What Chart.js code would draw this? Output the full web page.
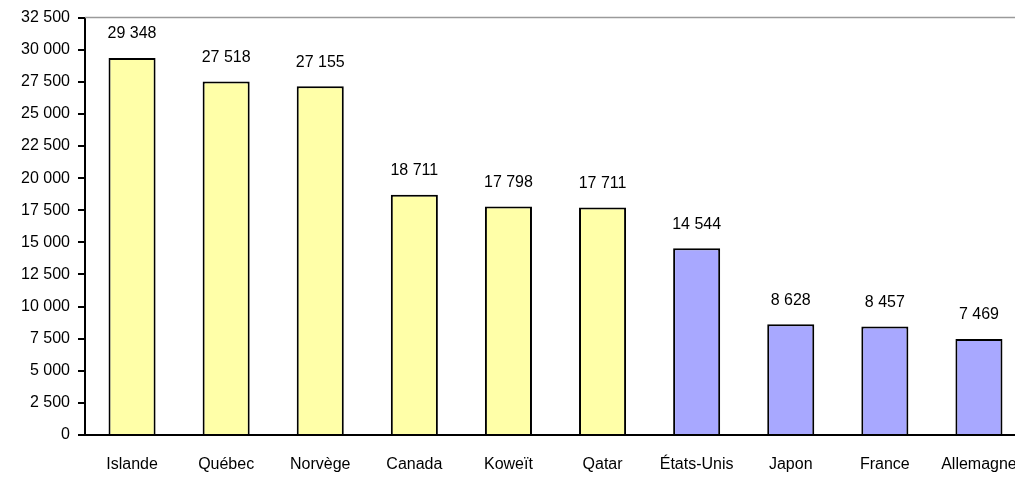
<!DOCTYPE html>
<html>
<head>
<meta charset="utf-8">
<script src="https://cdn.jsdelivr.net/npm/chart.js@4.4.1/dist/chart.umd.min.js"></script>
<style>
  html, body { margin: 0; padding: 0; background: #fff; overflow: hidden; }
  canvas { display: block; }
</style>
</head>
<body>
<canvas id="barChart" width="1030" height="477"></canvas>
<script>
// ================= DATA =================

const pays = ["Islande", "Québec", "Norvège", "Canada", "Koweït", "Qatar", "États-Unis", "Japon", "France", "Allemagne"];
const valeurs = [29348, 27518, 27155, 18711, 17798, 17711, 14544, 8628, 8457, 7469];
const groupe = [0, 0, 0, 0, 0, 0, 1, 1, 1, 1];
const yTicks = [0, 2500, 5000, 7500, 10000, 12500, 15000, 17500, 20000, 22500, 25000, 27500, 30000, 32500];

const couleurs = ["#ffffa8", "#a8a8ff"];
const FONT = "'Liberation Sans', Arial, sans-serif";

function fmt(v) {
    return String(v).replace(/\B(?=(\d{3})+(?!\d))/g, " ");
}

// ================= PLUGINS =================

const topBorder = {
    id: "topBorder",
    afterDraw(chart) {
        const { ctx, chartArea } = chart;
        ctx.save();
        ctx.strokeStyle = "#9a9a9a";
        ctx.lineWidth = 1.5;
        ctx.beginPath();
        ctx.moveTo(chartArea.left, chartArea.top);
        ctx.lineTo(chartArea.right, chartArea.top);
        ctx.stroke();
        ctx.restore();
    },
};

const valueLabels = {
    id: "valueLabels",
    afterDatasetsDraw(chart) {
        const { ctx } = chart;
        const meta = chart.getDatasetMeta(0);
        ctx.save();
        ctx.font = "16px " + FONT;
        ctx.fillStyle = "#000";
        ctx.textAlign = "center";
        ctx.textBaseline = "bottom";
        meta.data.forEach((bar, i) => {
            ctx.fillText(fmt(valeurs[i]), bar.x, bar.y - 16);
        });
        ctx.restore();
    },
};

// ================= CHART =================

new Chart(document.getElementById("barChart"), {
    type: "bar",
    data: {
        labels: pays,
        datasets: [
            {
                data: valeurs,
                backgroundColor: groupe.map((g) => couleurs[g]),
                borderColor: "#000",
                borderWidth: 2,
                categoryPercentage: 1,
                barPercentage: 0.5,
            },
        ],
    },
    options: {
        responsive: false,
        animation: false,
        devicePixelRatio: 1,
        layout: { padding: { top: 15, right: 4, left: 0, bottom: 0 } },
        plugins: {
            legend: { display: false },
            tooltip: { enabled: false },
        },
        scales: {
            x: {
                grid: { display: false, drawTicks: false },
                border: { display: true, color: "#000", width: 2 },
                ticks: { color: "#000", font: { family: FONT, size: 16 }, padding: 20, maxRotation: 0, autoSkip: false },
                afterFit(scale) {
                    scale.height = 42;
                    scale.paddingLeft = 0;
                    scale.paddingRight = 0;
                },
            },
            y: {
                min: 0,
                max: 32500,
                afterBuildTicks(scale) { scale.ticks = yTicks.map((v) => ({ value: v })); },
                grid: { drawOnChartArea: false, drawTicks: true, tickLength: 7, tickColor: "#000", lineWidth: 2 },
                border: { display: true, color: "#000", width: 2 },
                ticks: { color: "#000", font: { family: FONT, size: 16 }, padding: 8, callback: (v) => fmt(v) },
                afterFit(scale) { scale.width = 85; },
            },
        },
    },
    plugins: [topBorder, valueLabels],
});
</script>
</body>
</html>
